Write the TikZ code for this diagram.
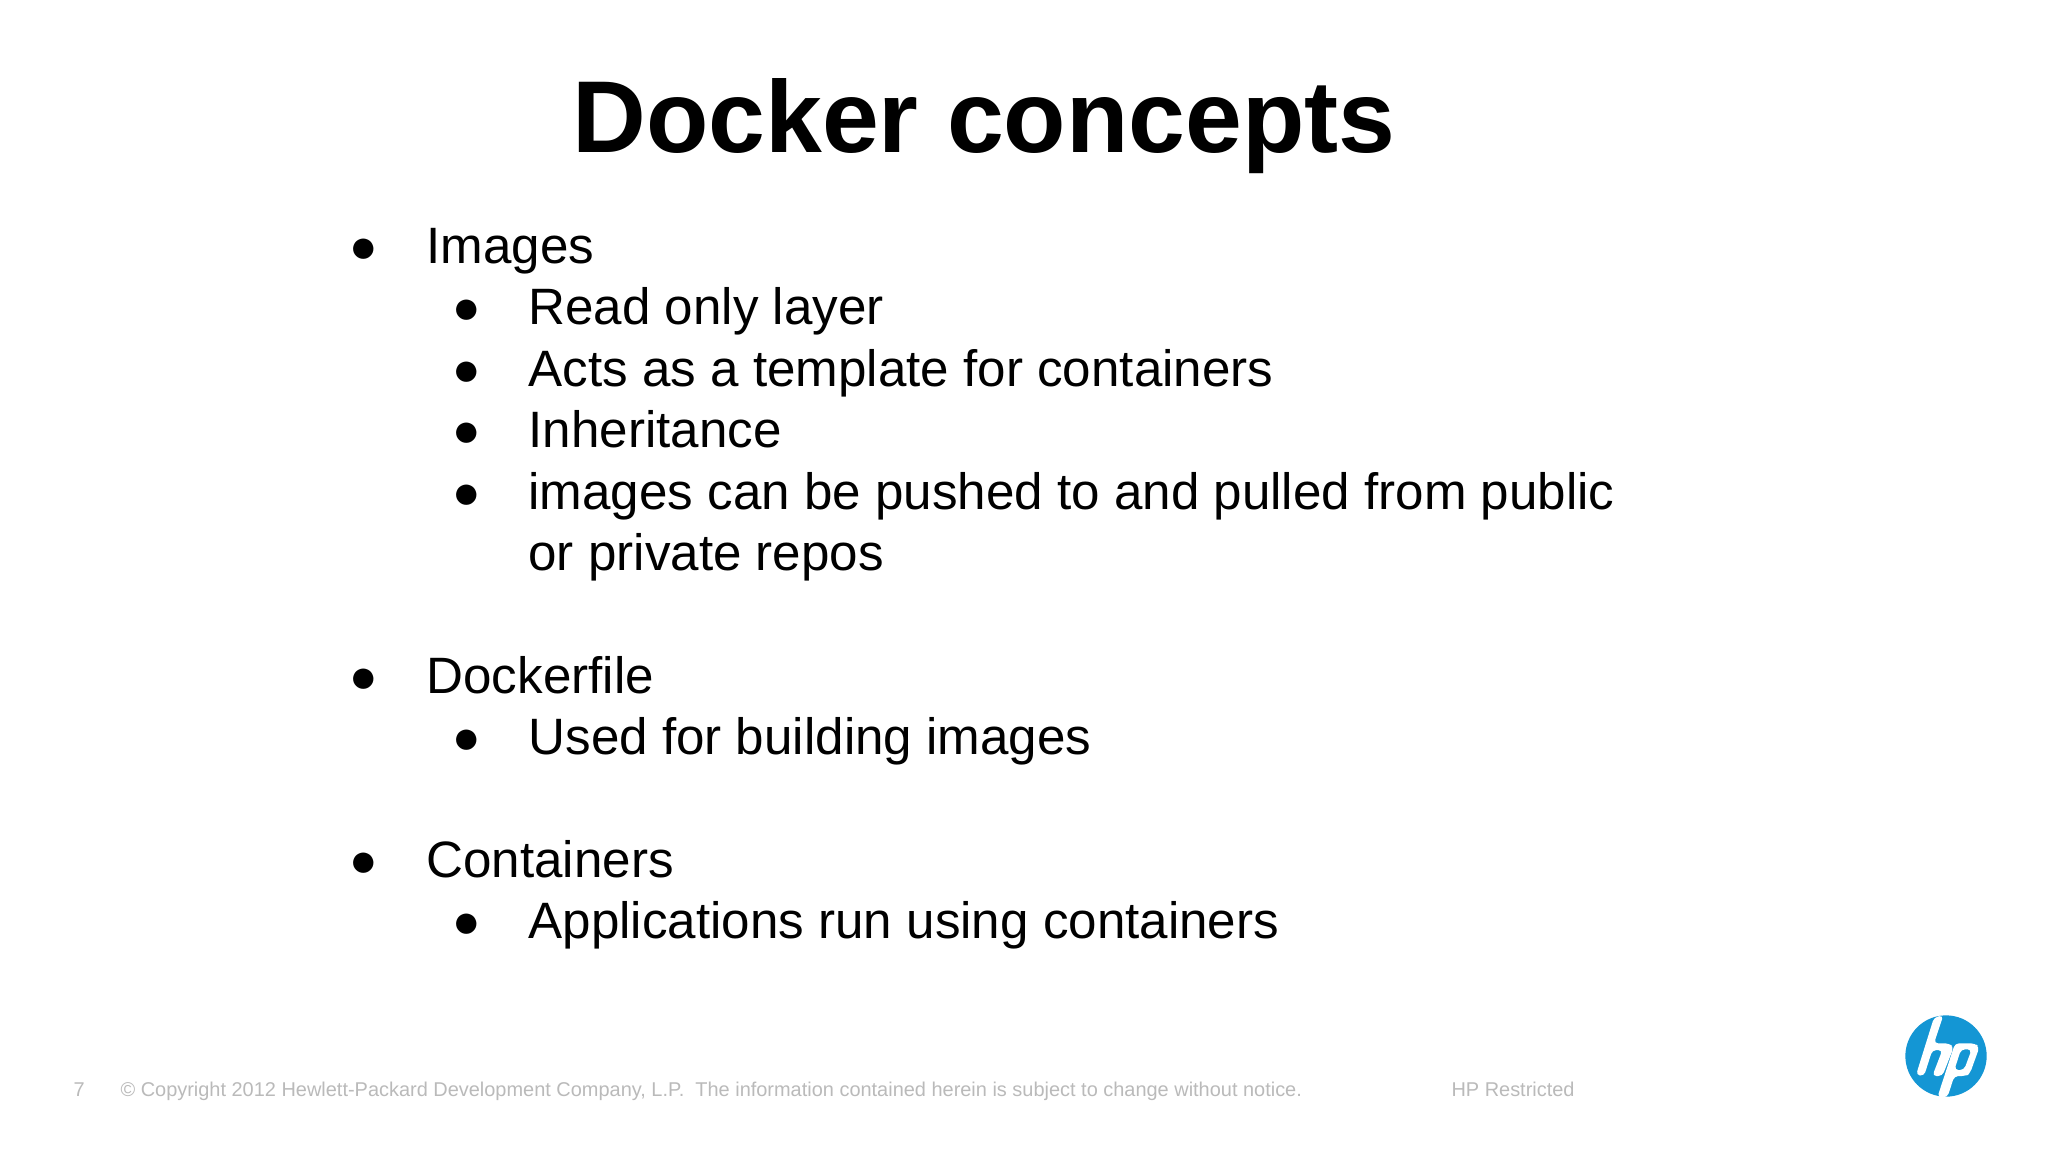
\documentclass[tikz,border=0pt]{standalone}
\usepackage{fontspec}
\setmainfont{Liberation Sans}
\definecolor{foot}{HTML}{BABABA}
\definecolor{hpblue}{HTML}{1496D4}
\tikzset{
 px/.style={x=0.375pt,y=-0.375pt},
 body/.style={anchor=base west,inner sep=0pt,font=\fontsize{19.18pt}{24pt}\selectfont,text=black},
 bul/.style={anchor=base,inner sep=0pt,font=\fontsize{17.7pt}{24pt}\selectfont,text=black},
 footer/.style={anchor=base west,inner sep=0pt,font=\fontsize{7.48pt}{9pt}\selectfont,text=foot},
}
\begin{document}
\begin{tikzpicture}[px]
\useasboundingbox (0,0) rectangle (2048,1152);
\fill[white] (0,0) rectangle (2048,1152);
\node[anchor=base,inner sep=0pt,font=\fontsize{38.3pt}{45pt}\selectfont\bfseries] (title) at (984,152) {Docker concepts};
\foreach \n/\y/\t in {a/264/Images,f/694/Dockerfile,k/878/Containers}{
 \node[bul] (b\n) at (364,\y-2) {●};
 \node[body] (t\n) at (426,\y-0.5) {\t};
}
\foreach \n/\y/\t in {b/325/Read only layer,c/387/Acts as a template for containers,d/448/Inheritance,e/510/images can be pushed to and pulled from public,g/755/Used for building images,l/939/Applications run using containers}{
 \node[bul] (b\n) at (467,\y-2) {●};
 \node[body] (t\n) at (528,\y-0.5) {\t};
}
\node[body] (te2) at (528,570.5) {or private repos};
\node[footer] (pg) at (73,1096) {7};
\node[footer] (copy) at (120,1096) {© Copyright 2012 Hewlett-Packard Development Company, L.P.\ \ The information contained herein is subject to change without notice.};
\node[footer] (res) at (1451,1096) {HP Restricted};
\begin{scope}[shift={(1860,990)},x=0.125pt,y=-0.125pt]
 \fill[hpblue] (258,198) circle[radius=15.25pt];
 \fill[white,even odd rule,rounded corners=1.5pt]
  (222,82) -- (250,76) -- (222,160) -- (268,160) -- (281,172) -- (247,258) -- (217,258) -- (247,180) -- (217,180) -- (192,258) -- (168,255) -- cycle;
 \fill[white,even odd rule,rounded corners=1.5pt]
  (285,160) -- (345,160) -- (358,172) -- (330,250) -- (318,258) -- (283,258) -- (262,322) -- (232,322) -- cycle
  (303,178) -- (283,240) -- (312,240) -- (335,178) -- cycle;
\end{scope}
\end{tikzpicture}
\end{document}
